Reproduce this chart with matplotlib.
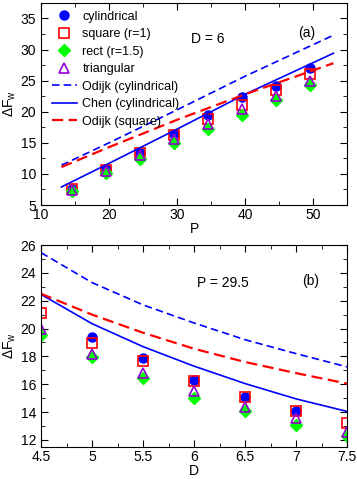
import numpy as np
import matplotlib
matplotlib.use('Agg')
from matplotlib import pyplot as plt
from matplotlib.ticker import MultipleLocator

plt.rcParams['font.family'] = ['Liberation Sans', 'DejaVu Sans']
plt.rcParams['mathtext.default'] = 'regular'

# panel (a): D = 6, free energy vs P
P = [14.5, 19.5, 24.5, 29.5, 34.5, 39.5, 44.5, 49.5]
a_cyl = [7.6, 10.8, 13.4, 16.4, 19.4, 22.4, 24.1, 27.1]
a_sq = [7.6, 10.7, 13.4, 16.3, 18.8, 21.0, 23.5, 26.0]
a_rect = [7.2, 10.1, 12.4, 15.0, 17.2, 19.5, 21.9, 24.3]
a_tri = [7.4, 10.5, 13.0, 15.6, 18.0, 20.4, 22.6, 24.9]

P_line = [13, 20, 30, 40, 53]
a_odijk_cyl = [11.4, 15.0, 20.3, 25.7, 32.3]
a_chen_cyl = [7.9, 11.7, 17.2, 22.8, 29.4]
a_odijk_sq = [11.1, 14.3, 18.7, 22.8, 27.8]

# panel (b): P = 29.5, free energy vs D
D = [4.5, 5.0, 5.5, 6.0, 6.5, 7.0, 7.5]
b_cyl = [np.nan, 19.4, 17.85, 16.3, 15.05, 14.1, np.nan]
b_sq = [21.15, 18.95, 17.65, 16.2, 15.05, 14.05, 13.2]
b_rect = [19.55, 17.95, 16.45, 15.0, 14.1, 13.1, 12.3]
b_tri = [20.0, 18.2, 16.8, 15.5, 14.4, 13.6, 12.6]

D_line = [4.5, 5.0, 5.5, 6.0, 6.5, 7.0, 7.5]
b_odijk_cyl = [25.45, 23.3, 21.7, 20.4, 19.2, 18.2, 17.25]
b_chen_cyl = [22.45, 20.35, 18.7, 17.3, 16.05, 14.95, 14.05]
b_odijk_sq = [22.5, 21.0, 19.7, 18.55, 17.6, 16.8, 16.05]

blue = '#0000ff'
red = '#ff0000'
green = '#00ff00'
purple = '#9400d3'
ms = 6.5


def draw(ax, x, cyl, sq, rect, tri, xl, oc, cc, osq):
    ax.plot(x, cyl, 'o', color=blue, ms=ms, label='cylindrical')
    ax.plot(x, sq, 's', mfc='none', mec=red, mew=1.2, ms=ms, label='square (r=1)')
    ax.plot(x, rect, 'D', color=green, ms=ms - 0.8, label='rect (r=1.5)')
    ax.plot(x, tri, '^', mfc='none', mec=purple, mew=1.2, ms=ms + 0.5, label='triangular')
    ax.plot(xl, oc, color=blue, lw=1.2, dashes=(4.5, 2.5), label='Odijk (cylindrical)')
    ax.plot(xl, cc, color=blue, lw=1.2, label='Chen (cylindrical)')
    ax.plot(xl, osq, color=red, lw=1.6, dashes=(5, 2.5), label='Odijk (square)')
    ax.tick_params(which='both', direction='in', top=True, right=True, labelsize=10)
    ax.tick_params(which='major', length=5)
    ax.tick_params(which='minor', length=3)
    ax.tick_params(axis='x', pad=2.5)
    ax.set_ylabel(r'$\Delta F_w$', fontsize=10, labelpad=2)


fig = plt.figure(figsize=(3.57, 4.79), dpi=100)

ax1 = fig.add_axes([0.115, 0.572, 0.857, 0.422])
draw(ax1, P, a_cyl, a_sq, a_rect, a_tri, P_line, a_odijk_cyl, a_chen_cyl, a_odijk_sq)
ax1.set_xlim(10, 55)
ax1.set_ylim(5, 37.5)
ax1.xaxis.set_major_locator(MultipleLocator(10))
ax1.xaxis.set_minor_locator(MultipleLocator(5))
ax1.yaxis.set_major_locator(MultipleLocator(5))
ax1.yaxis.set_minor_locator(MultipleLocator(2.5))
ax1.set_xlabel('P', fontsize=10, labelpad=-0.5)
ax1.text(0.545, 0.82, 'D = 6', transform=ax1.transAxes, ha='center', va='center', fontsize=10)
ax1.text(0.869, 0.85, '(a)', transform=ax1.transAxes, ha='center', va='center', fontsize=10)
ax1.legend(loc='upper left', bbox_to_anchor=(0.035, 0.962), frameon=False, fontsize=9,
           borderpad=0, borderaxespad=0, handlelength=2.0, handletextpad=0.45,
           labelspacing=0.44, numpoints=1)

ax2 = fig.add_axes([0.115, 0.067, 0.857, 0.4215])
draw(ax2, D, b_cyl, b_sq, b_rect, b_tri, D_line, b_odijk_cyl, b_chen_cyl, b_odijk_sq)
ax2.set_xlim(4.5, 7.5)
ax2.set_ylim(11.5, 26)
ax2.xaxis.set_major_locator(MultipleLocator(0.5))
ax2.xaxis.set_minor_locator(MultipleLocator(0.25))
ax2.yaxis.set_major_locator(MultipleLocator(2))
ax2.yaxis.set_minor_locator(MultipleLocator(1))
ax2.set_xticks([4.5, 5, 5.5, 6, 6.5, 7, 7.5], ['4.5', '5', '5.5', '6', '6.5', '7', '7.5'])
ax2.set_xlabel('D', fontsize=10, labelpad=-0.5)
ax2.text(0.595, 0.81, 'P = 29.5', transform=ax2.transAxes, ha='center', va='center', fontsize=10)
ax2.text(0.88, 0.82, '(b)', transform=ax2.transAxes, ha='center', va='center', fontsize=10)

fig.savefig('out.png', dpi=100)
